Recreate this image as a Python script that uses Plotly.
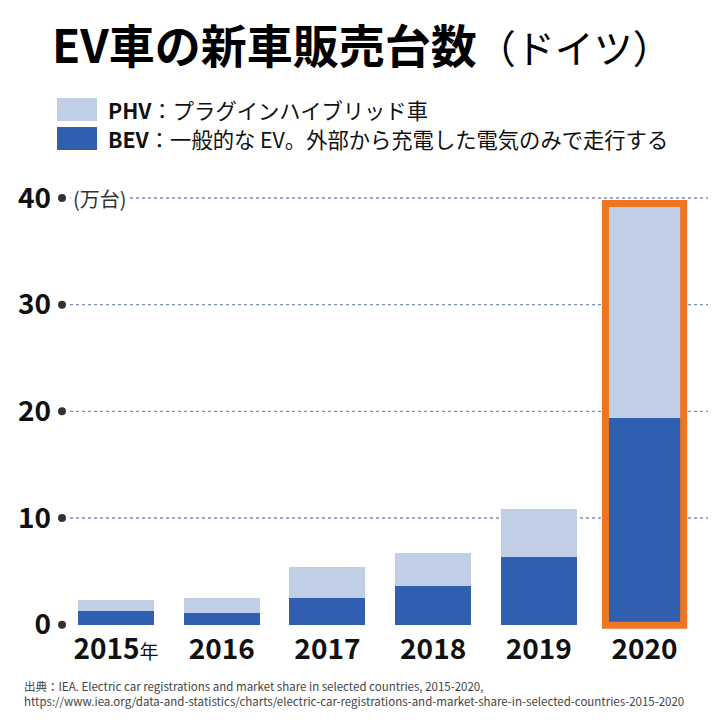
import plotly.graph_objects as go

years = ['2015', '2016', '2017', '2018', '2019', '2020']
bev = [1.24, 1.14, 2.51, 3.61, 6.33, 19.4]   # 万台
phv = [1.11, 1.33, 2.94, 3.14, 4.53, 20.0]
yticks = [0, 10, 20, 30, 40]

font = 'Noto Sans CJK JP'
light = '#c0cfe6'
dark = '#2f5fae'
orange = '#ee7623'

# page has an 8px body margin, so the figure is drawn 8px smaller and all
# pixel positions below are given in page coordinates
OFF = 8
W, H = 720 - OFF, 720 - OFF
ML, MR, MT, MB = 70 - OFF, 12, 182 - OFF, 90
PW, PH = W - ML - MR, H - MT - MB


def px(x):
    return (x - OFF - ML) / PW


def py(y):
    return (H - MB - (y - OFF)) / PH


xpos = list(range(len(years)))
xlabels = ['<b>' + y + '</b>' for y in years]
xlabels[0] = '<b>2015</b><span style="font-size:19px">年</span>'

fig = go.Figure()
fig.add_trace(go.Bar(x=xpos, y=bev, name='BEV', marker=dict(color=dark, line_width=0), width=0.72))
fig.add_trace(go.Bar(x=xpos, y=phv, name='PHV', marker=dict(color=light, line_width=0), width=0.72))

# dotted grid lines + dots
for v in yticks:
    if v > 0:
        fig.add_shape(type='line', xref='paper', yref='y', x0=0, x1=1, y0=v, y1=v,
                      line=dict(color='#7d8fbb', width=1.3, dash='dot'), layer='below')
    fig.add_shape(type='circle', xref='paper', yref='y', xsizemode='pixel', ysizemode='pixel',
                  xanchor=px(62), yanchor=v, x0=-4, x1=4, y0=-4, y1=4,
                  fillcolor='#333333', line_width=0)

# highlight 2020
total_2020 = bev[-1] + phv[-1]
fig.add_shape(type='rect', xref='x', yref='y', x0=5 - 0.37, x1=5 + 0.37, y0=-0.05, y1=total_2020 + 0.08,
              line=dict(color=orange, width=7), fillcolor='rgba(0,0,0,0)')

# unit label
fig.add_annotation(text='(万台)', xref='paper', yref='y', x=px(70), y=40, xanchor='left', yanchor='middle',
                   showarrow=False, font=dict(family=font, size=20, color='#333333'), bgcolor='white',
                   borderpad=2)

# legend (custom)
for i, (col, lab, desc) in enumerate([(light, 'PHV', '：プラグインハイブリッド車'),
                                      (dark, 'BEV', '：一般的な EV。外部から充電した電気のみで走行する')]):
    y0 = 98 + i * 29
    fig.add_shape(type='rect', xref='paper', yref='paper', x0=px(57), x1=px(97),
                  y0=py(y0 + 23), y1=py(y0), fillcolor=col, line_width=0)
    fig.add_annotation(text='<b>' + lab + '</b>' + desc, xref='paper', yref='paper',
                       x=px(106), y=py(y0 + 11.5), xanchor='left', yanchor='middle',
                       showarrow=False, font=dict(family=font, size=21.3, color='#111111'))

# title
fig.add_annotation(text='<b>EV車の新車販売台数</b><span style="font-size:39px">（ドイツ）</span>',
                   xref='paper', yref='paper', x=px(362), y=py(43), xanchor='center', yanchor='middle',
                   showarrow=False, font=dict(family=font, size=46, color='#000000'))

# source
fig.add_annotation(text='出典：IEA. Electric car registrations and market share in selected countries, 2015-2020,<br>'
                        'https://www.iea.org/data-and-statistics/charts/electric-car-registrations-and-market-share-in-selected-countries-2015-2020',
                   xref='paper', yref='paper', x=px(22), y=py(693), xanchor='left', yanchor='middle',
                   align='left', showarrow=False, font=dict(family=font, size=11.5, color='#444444'))

fig.update_layout(
    barmode='stack',
    width=W, height=H,
    margin=dict(l=ML, r=MR, t=MT, b=MB),
    paper_bgcolor='white', plot_bgcolor='white',
    showlegend=False,
    font=dict(family=font),
)
fig.update_xaxes(range=[-0.435, 5.6], tickvals=xpos, ticktext=xlabels, showgrid=False, zeroline=False,
                 showline=False, ticks='', automargin=False,
                 tickfont=dict(family=font, size=28, color='#111111'))
fig.update_yaxes(range=[-0.5, 41.5], tickvals=yticks, ticktext=['<b>%d</b>' % v for v in yticks],
                 showgrid=False, zeroline=False, showline=False, ticks='', ticklabelstandoff=18,
                 automargin=False, tickfont=dict(family=font, size=28, color='#111111'))

fig.write_html('out.html')
